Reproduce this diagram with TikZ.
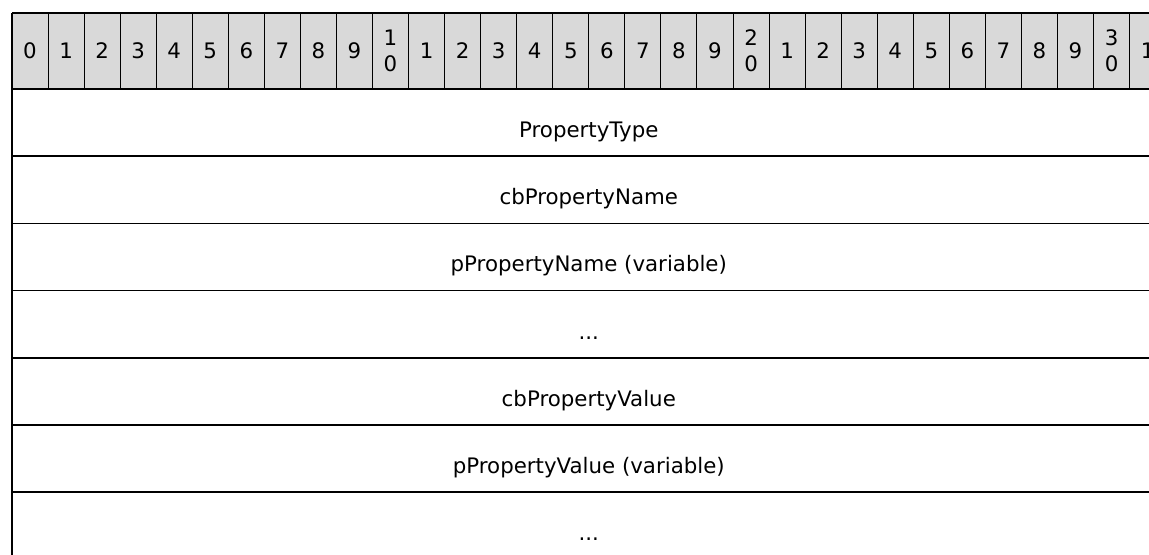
\documentclass[tikz,border=0pt]{standalone}
\usepackage{fontspec}
\setmainfont{DejaVu Sans}
\definecolor{headgray}{RGB}{217,217,217}
\usetikzlibrary{positioning}
\newcommand{\morefield}{...}

\begin{document}
\begin{tikzpicture}[x=0.75pt, y=-0.75pt,
    rowline/.style={line width=1.1pt, black},
    cellline/.style={line width=0.75pt, black},
    bitnum/.style={font=\fontsize{16}{19.5}\selectfont, align=center, inner sep=0pt},
    field/.style={font=\fontsize{16}{19.5}\selectfont, anchor=base, inner sep=0pt}]
    \useasboundingbox (0,0) rectangle (1149,555);
    \clip (0,0) rectangle (1149,555);

    % Header with bit numbers
    \fill[headgray] (12,13) rectangle (1170,89);
    \foreach \i in {0,...,32}
        \draw[cellline] ({12+36.05*\i},13) -- ({12+36.05*\i},89);
    \draw[rowline] (12,13) -- (1170,13);
    \draw[rowline] (12,89) -- (1170,89);
    \foreach \i in {0,...,31}{
        \pgfmathtruncatemacro{\ones}{mod(\i,10)}
        \pgfmathtruncatemacro{\tens}{\i/10}
        \ifnum\i>9 \ifnum\ones=0 \def\lbl{\tens\\0}\else\def\lbl{\ones}\fi
        \else\def\lbl{\ones}\fi
        \node[bitnum] (bit\i) at ({30.03+36.05*\i},51) {\lbl};
    }

    % Left border and row separators
    \draw[rowline] (12,13) -- (12,560);
    \foreach \k in {1,...,6}
        \draw[rowline] (12,{89+67.2*\k}) -- (1170,{89+67.2*\k});

    % Fields
    \foreach \name/\txt [count=\k from 0] in {ptype/PropertyType,
            cbname/cbPropertyName, pname/pPropertyName (variable),
            namemore/\morefield, cbvalue/cbPropertyValue,
            pvalue/pPropertyValue (variable), valuemore/\morefield}
        \node[field] (\name) at (588.8,{89+67.2*\k+48.5}) {\txt};
\end{tikzpicture}
\end{document}
